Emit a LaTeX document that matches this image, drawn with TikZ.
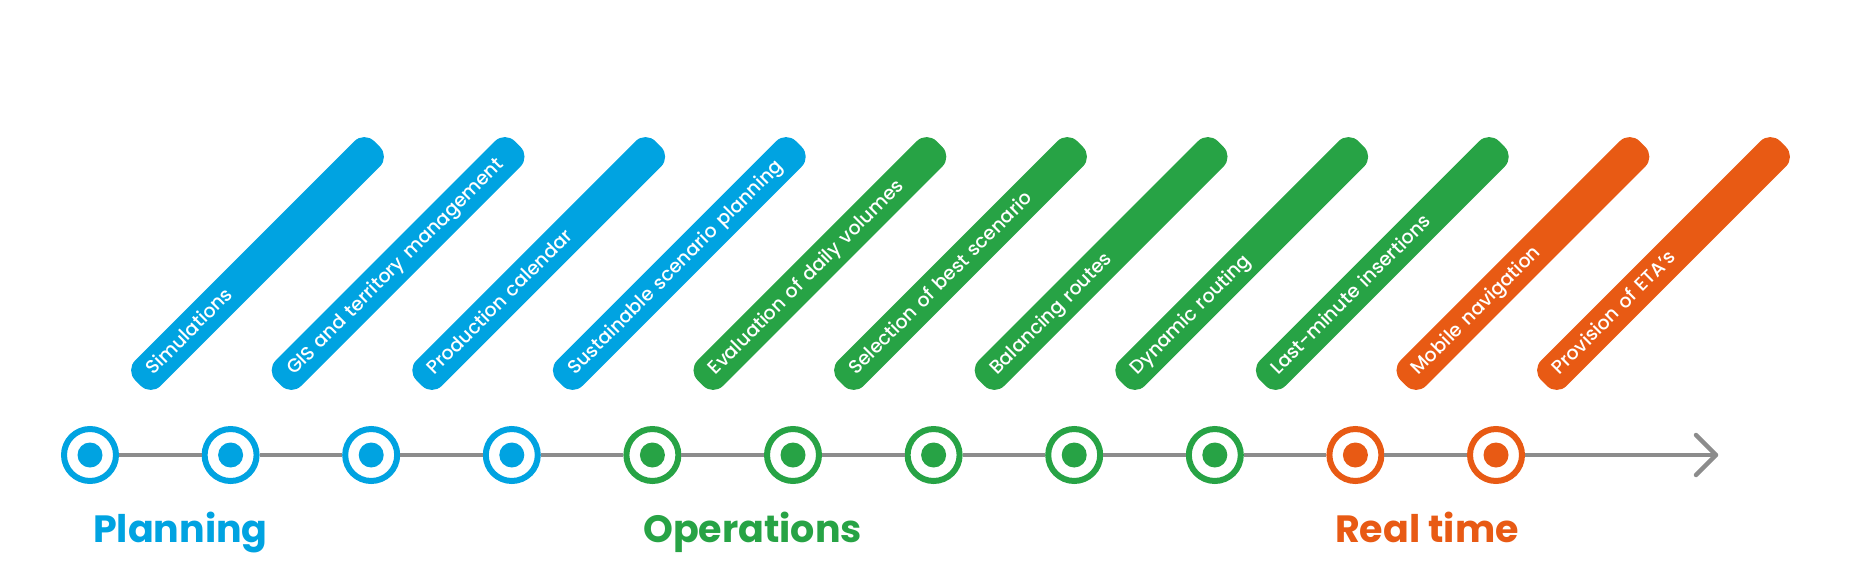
\documentclass[tikz,border=0pt]{standalone}
\usepackage{fontspec}
\setmainfont{Poppins}
\newfontfamily\barfont{Poppins Medium}
\usetikzlibrary{calc}
\definecolor{cblue}{HTML}{00A3E1}
\definecolor{cgreen}{HTML}{27A345}
\definecolor{corange}{HTML}{E85A14}
\definecolor{cgray}{HTML}{8C8C8C}
\begin{document}
\begin{tikzpicture}[x=1pt,y=-1pt,
  bar/.style={rotate=45, fill=#1, minimum height=36pt, text width=306pt, inner xsep=16pt, inner ysep=0pt,
    rounded corners=14pt, align=left, text=white, font=\barfont\fontsize{19}{19}\selectfont,
    text height=12pt, text depth=0pt, anchor=center},
  ring/.style={circle, draw=#1, line width=6pt, fill=white, minimum size=52pt, inner sep=0pt},
  axis/.style={draw=cgray, line width=4.5pt},
  title/.style={anchor=base west, inner sep=0pt, font=\fontsize{38}{38}\selectfont\bfseries, text=#1}]
\useasboundingbox (0,0) rectangle (1860,573);
\foreach \i/\c/\t in {0/cblue/Simulations,
  1/cblue/GIS and territory management,
  2/cblue/Production calendar,
  3/cblue/Sustainable scenario planning,
  4/cgreen/Evaluation of daily volumes,
  5/cgreen/Selection of best scenario,
  6/cgreen/Balancing routes,
  7/cgreen/Dynamic routing,
  8/cgreen/Last-minute insertions,
  9/corange/Mobile navigation,
  10/corange/Provision of ETA’s}{
  \node[bar=\c] (b\i) at ({257.5+140.6*\i},263.5) {\mbox{\t}};
  \node[ring=\c] (c\i) at ({90+140.6*\i},455) {};
  \fill[\c] (c\i.center) circle (12.5);
}
\foreach \i [evaluate=\i as \j using int(\i+1)] in {0,...,9}{
  \draw[axis] (c\i) -- (c\j);
}
\coordinate (tip) at (1716,455);
\draw[axis] (c10) -- (tip);
\draw[axis, line cap=round, line join=round] ($(tip)+(-20,-20)$) -- (tip) -- ($(tip)+(-20,20)$);
\node[title=cblue] (planning) at (93,542) {Planning};
\node[title=cgreen] (operations) at (643,542) {Operations};
\node[title=corange] (realtime) at (1335,542) {Real time};
\end{tikzpicture}
\end{document}
